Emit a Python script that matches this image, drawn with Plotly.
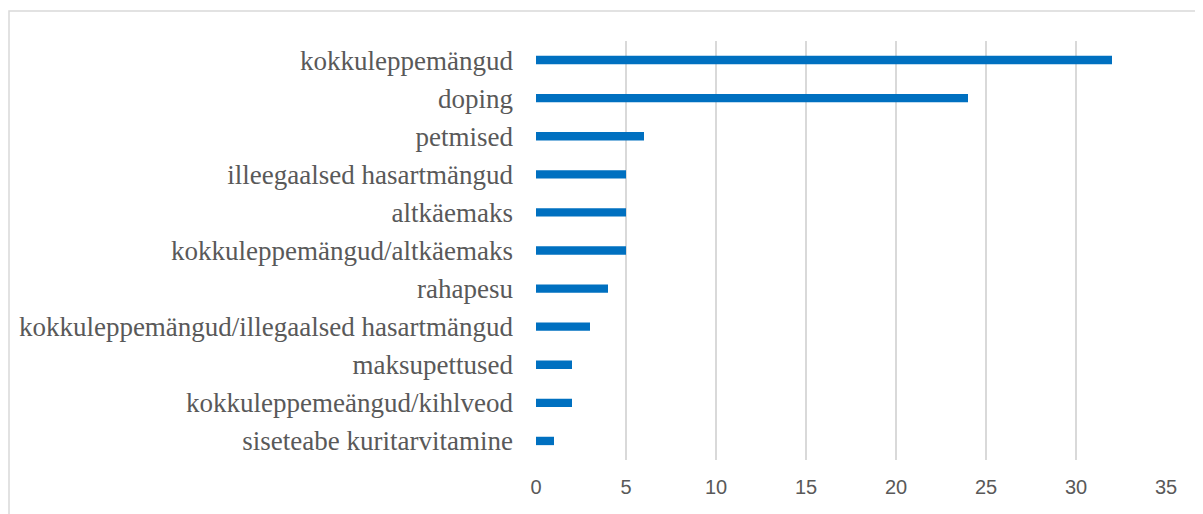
import plotly.graph_objects as go

categories = [
    "kokkuleppemängud",
    "doping",
    "petmised",
    "illeegaalsed hasartmängud",
    "altkäemaks",
    "kokkuleppemängud/altkäemaks",
    "rahapesu",
    "kokkuleppemängud/illegaalsed hasartmängud",
    "maksupettused",
    "kokkuleppemeängud/kihlveod",
    "siseteabe kuritarvitamine",
]
values = [32, 24, 6, 5, 5, 5, 4, 3, 2, 2, 1]
x_ticks = [0, 5, 10, 15, 20, 25, 30, 35]

# the page adds an 8px body margin, so the figure is sized to fit the window
W, H = 1195, 506
L, R, T, B = 528, 37, 33, 54
pw, ph = W - L - R, H - T - B

fig = go.Figure(go.Bar(
    x=values, y=categories, orientation="h",
    marker=dict(color="#0070C0", line=dict(width=0)),
    width=0.22,
))

fig.update_layout(
    width=W, height=H,
    margin=dict(l=L, r=R, t=T, b=B, autoexpand=False),
    paper_bgcolor="white", plot_bgcolor="white",
    showlegend=False,
    xaxis=dict(
        range=[0, 35], tickvals=x_ticks, showgrid=True, gridcolor="#d9d9d9",
        gridwidth=1.5, zeroline=False, showline=False,
        tickfont=dict(family="Liberation Sans", size=20, color="#595959"),
        ticks="", ticklabelstandoff=13,
    ),
    yaxis=dict(
        categoryorder="array", categoryarray=categories, autorange="reversed",
        showgrid=False, zeroline=False, showline=False,
        tickfont=dict(family="Liberation Serif", size=27, color="#595959"),
        ticks="", ticklabelstandoff=22,
    ),
    shapes=[dict(
        type="rect", xref="paper", yref="paper",
        x0=(1 - L) / pw, x1=(W + 10 - L) / pw,
        y0=-(H + 10 - (T + ph)) / ph, y1=(T + ph - 3) / ph,
        line=dict(color="#d9d9d9", width=1.5), fillcolor="rgba(0,0,0,0)",
        layer="below",
    )],
)

fig.write_html("out.html")
